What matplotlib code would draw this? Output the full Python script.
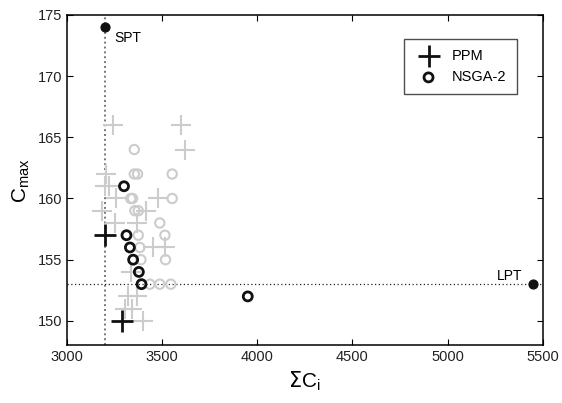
import matplotlib.pyplot as plt

plt.rcParams['font.family'] = ['Liberation Sans', 'DejaVu Sans']

# PPM solutions (grey = other runs, black = best front)
ppm_grey_x = [3243, 3600, 3620, 3208, 3200, 3222, 3260, 3476, 3185, 3418,
              3252, 3366, 3450, 3515, 3336, 3320, 3370, 3305, 3340, 3401]
ppm_grey_y = [166, 166, 164, 162, 161, 161, 160, 160, 159, 159,
              158, 158, 156, 156, 154, 152, 152, 151, 151, 150]
ppm_x = [3200, 3290]
ppm_y = [157, 150]

# NSGA-2 solutions
nsga_grey_x = [3354, 3354, 3371, 3553, 3335, 3345, 3553, 3357, 3375, 3488,
               3375, 3515, 3383, 3389, 3518, 3436, 3488, 3546]
nsga_grey_y = [164, 162, 162, 162, 160, 160, 160, 159, 159, 158,
               157, 157, 156, 155, 155, 153, 153, 153]
nsga_x = [3300, 3313, 3331, 3348, 3378, 3392, 3950]
nsga_y = [161, 157, 156, 155, 154, 153, 152]

spt = (3200, 174)
lpt = (5450, 153)

grey = '#cccccc'

fig = plt.figure(figsize=(5.62, 4.03), dpi=100)
ax = fig.add_axes([0.119, 0.143, 0.847, 0.82])

ax.axvline(spt[0], color='#777777', linestyle=(0, (1, 1.5)), linewidth=1.4, zorder=1)
ax.axhline(lpt[1], color='#222222', linestyle=(0, (1, 2)), linewidth=0.9, zorder=1)

ax.scatter(ppm_grey_x, ppm_grey_y, marker='+', s=200, color=grey, linewidths=1.5, zorder=2)
ax.scatter(nsga_grey_x, nsga_grey_y, marker='o', s=45, facecolors='none',
           edgecolors=grey, linewidths=1.5, zorder=2)
ax.scatter(ppm_x, ppm_y, marker='+', s=230, color='#111111', linewidths=2.0,
           zorder=3, label='PPM')
ax.scatter(nsga_x, nsga_y, marker='o', s=42, facecolors='none',
           edgecolors='#111111', linewidths=2.0, zorder=3, label='NSGA-2')

ax.scatter([spt[0], lpt[0]], [spt[1], lpt[1]], marker='o', s=40, color='#111111', zorder=4)
ax.annotate('SPT', spt, xytext=(7, -11), textcoords='offset points', fontsize=10)
ax.annotate('LPT', lpt, xytext=(-26, 3), textcoords='offset points', fontsize=10)

ax.set_xlim(3000, 5500)
ax.set_ylim(148, 175)
ax.set_xticks(range(3000, 5501, 500))
ax.set_yticks(range(150, 176, 5))
ax.tick_params(direction='in', top=True, right=True, labelsize=10.5, length=4,
               labelcolor='#222222')
for s in ax.spines.values():
    s.set_linewidth(1.1)

ax.set_xlabel(r'$\Sigma$C$_\mathregular{i}$', fontsize=15)
ax.set_ylabel(r'C$_\mathregular{max}$', fontsize=15)

leg = ax.legend(loc='upper right', bbox_to_anchor=(0.96, 0.95), fancybox=False,
                edgecolor='#222222', fontsize=10.5, handletextpad=0.6,
                borderpad=0.7, labelspacing=0.5)
leg.get_frame().set_linewidth(1.0)

fig.savefig('out.png', dpi=100)
